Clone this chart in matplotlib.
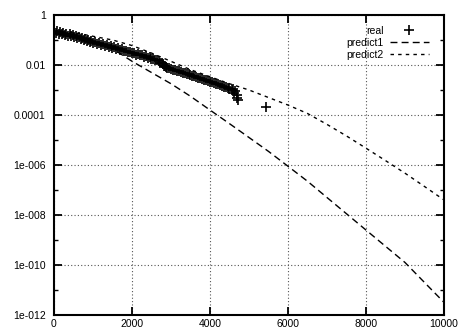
import matplotlib
matplotlib.use("Agg")
import matplotlib.pyplot as plt
from matplotlib.ticker import FixedLocator, FixedFormatter, NullFormatter

plt.rcParams['font.family'] = ['Liberation Sans', 'DejaVu Sans']

# ---- data ----
real_x = [0, 40, 80, 120, 160, 200, 240, 280, 320, 360, 400, 440, 480, 520, 560, 600,
          640, 680, 720, 760, 800, 840, 880, 920, 960, 1000, 1050, 1100, 1150, 1200,
          1250, 1300, 1350, 1400, 1450, 1500, 1550, 1600, 1650, 1700, 1750, 1800,
          1850, 1900, 1950, 2000, 2050, 2100, 2150, 2200, 2250, 2300, 2350, 2400,
          2450, 2500, 2550, 2600, 2650, 2700, 2730, 2760, 2790, 2820, 2850, 2880,
          2910, 2950, 3000, 3050, 3100, 3150, 3200, 3250, 3300, 3350, 3400, 3450,
          3500, 3550, 3600, 3650, 3700, 3750, 3800, 3850, 3900, 3950, 4000, 4050,
          4100, 4150, 4200, 4250, 4300, 4350, 4400, 4450, 4500, 4560, 4600, 4620,
          4650, 4680, 4700, 4720, 5430]
real_y = [2.1e-1, 1.9e-1, 2.2e-1, 1.8e-1, 2.0e-1, 1.7e-1, 1.9e-1, 1.6e-1, 1.8e-1, 1.5e-1, 1.7e-1, 1.4e-1, 1.55e-1, 1.3e-1, 1.45e-1, 1.2e-1,
          1.35e-1, 1.1e-1, 1.25e-1, 1.0e-1, 1.12e-1, 9.2e-2, 1.02e-1, 8.5e-2, 9.4e-2, 7.9e-2, 8.6e-2, 7.2e-2, 7.8e-2, 6.5e-2,
          7.1e-2, 5.8e-2, 6.3e-2, 5.3e-2, 5.8e-2, 4.8e-2, 5.2e-2, 4.3e-2, 4.7e-2, 3.9e-2, 4.2e-2, 3.5e-2,
          3.8e-2, 3.2e-2, 3.4e-2, 2.9e-2, 3.1e-2, 2.6e-2, 2.8e-2, 2.4e-2, 2.5e-2, 2.15e-2, 2.25e-2, 1.95e-2,
          2.0e-2, 1.75e-2, 1.8e-2, 1.6e-2, 1.55e-2, 1.4e-2, 1.25e-2, 1.15e-2, 1.05e-2, 9.5e-3, 8.8e-3, 8.2e-3,
          7.6e-3, 7.3e-3, 6.9e-3, 6.6e-3, 6.2e-3, 5.9e-3, 5.5e-3, 5.3e-3, 4.9e-3, 4.7e-3, 4.4e-3, 4.2e-3,
          3.9e-3, 3.7e-3, 3.5e-3, 3.3e-3, 3.1e-3, 2.95e-3, 2.75e-3, 2.6e-3, 2.45e-3, 2.3e-3, 2.15e-3, 2.0e-3,
          1.9e-3, 1.78e-3, 1.66e-3, 1.56e-3, 1.46e-3, 1.38e-3, 1.3e-3, 1.2e-3, 1.12e-3, 1.0e-3, 1.1e-3, 7.9e-4,
          9.0e-4, 6.3e-4, 4.8e-4, 3.9e-4, 2.0e-4]

pred_x = [0, 500, 1000, 1500, 2000, 2500, 3000, 3500, 4000, 4500, 5000, 5500,
          6000, 6500, 7000, 7500, 8000, 8500, 9000, 9500, 10000]
predict1 = [2.0e-1, 1.58e-1, 1.0e-1, 4.5e-2, 1.41e-2, 5.0e-3, 1.78e-3, 5.6e-4,
            1.58e-4, 4.5e-5, 1.26e-5, 3.5e-6, 8.9e-7, 2.24e-7, 5.0e-8, 1.12e-8,
            2.5e-9, 5.6e-10, 1.26e-10, 2.0e-11, 3.2e-12]
predict2 = [2.1e-1, 2.0e-1, 1.41e-1, 1.0e-1, 6.0e-2, 3.0e-2, 1.4e-2, 6.5e-3,
            3.4e-3, 1.78e-3, 1.0e-3, 5.0e-4, 2.5e-4, 1.15e-4, 4.2e-5, 1.45e-5,
            4.7e-6, 1.5e-6, 4.7e-7, 1.38e-7, 4.0e-8]

x_ticks = [0, 2000, 4000, 6000, 8000, 10000]
y_ticks = [1e-12, 1e-10, 1e-8, 1e-6, 1e-4, 1e-2, 1]
y_tick_labels = ["1e-012", "1e-010", "1e-008", "1e-006", "0.0001", "0.01", "1"]
y_minor = [1e-11, 1e-9, 1e-7, 1e-5, 1e-3, 1e-1]

# ---- figure ----
fig = plt.figure(figsize=(4.6, 3.31), dpi=100)
ax = fig.add_axes([54/460, 16/331, 390/460, 300/331])

ax.plot(real_x, real_y, linestyle='none', marker='+', markersize=7,
        markeredgewidth=1.2, color='black', label='real')
ax.plot(pred_x, predict1, color='black', lw=1.0, dashes=(5, 3), label='predict1')
ax.plot(pred_x, predict2, color='black', lw=1.0, dashes=(2.5, 3), label='predict2')

ax.set_yscale('log')
ax.set_xlim(0, 10000)
ax.set_ylim(1e-12, 1)
ax.xaxis.set_major_locator(FixedLocator(x_ticks))
ax.yaxis.set_major_locator(FixedLocator(y_ticks))
ax.yaxis.set_major_formatter(FixedFormatter(y_tick_labels))
ax.yaxis.set_minor_locator(FixedLocator(y_minor))
ax.yaxis.set_minor_formatter(NullFormatter())

ax.tick_params(axis='both', which='major', direction='in', length=6, width=1.3,
               top=True, right=True, labelsize=7.5, pad=3, colors='black')
ax.tick_params(axis='y', which='major', pad=6)
ax.tick_params(axis='y', which='minor', direction='in', length=3, width=1.0,
               right=True, left=True)
ax.tick_params(axis='x', which='minor', bottom=False, top=False)
for s in ax.spines.values():
    s.set_linewidth(1.5)

ax.grid(True, which='major', linestyle=(0, (1, 2)), color='#555555', lw=0.8)
ax.set_axisbelow(True)

leg = ax.legend(loc='upper right', bbox_to_anchor=(0.9615, 0.965),
                frameon=False, markerfirst=False,
                fontsize=7.5, handlelength=3.75, handletextpad=0.6,
                labelspacing=0.2, borderaxespad=0.0, borderpad=0.0)

fig.savefig('out.png', dpi=100)
